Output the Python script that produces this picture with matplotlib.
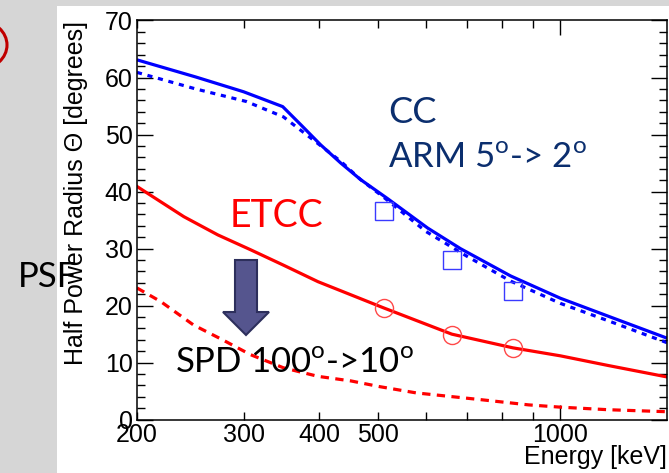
import matplotlib
matplotlib.use("Agg")
import matplotlib.pyplot as plt
from matplotlib.patches import Rectangle, Polygon, Ellipse
from matplotlib.ticker import FixedLocator, FixedFormatter, MultipleLocator, NullFormatter

# ---------------- data ----------------
cc_energy = [200, 250, 300, 348, 373, 402, 434, 468, 518, 604, 684, 828, 1000, 1210, 1500]
cc_psf = [63.1, 60.1, 57.5, 54.9, 51.7, 48.2, 45.0, 42.1, 38.8, 33.6, 30.0, 25.2, 21.3, 18.0, 14.3]

cc2_energy = [200, 250, 303, 349, 397, 434, 468, 511, 600, 700, 828, 1000, 1210, 1500]
cc2_psf = [60.9, 58.0, 55.8, 53.1, 48.5, 45.3, 42.1, 39.0, 33.0, 28.7, 24.3, 20.4, 17.2, 13.5]

etcc_energy = [200, 211, 239, 272, 308, 349, 398, 451, 511, 662, 835, 1000, 1200, 1500]
etcc_psf = [40.9, 39.3, 35.6, 32.4, 29.8, 27.1, 24.2, 21.9, 19.6, 15.0, 12.6, 11.2, 9.5, 7.5]

etcc2_energy = [200, 219, 248, 277, 308, 349, 398, 451, 503, 578, 741, 886, 1000, 1200, 1500]
etcc2_psf = [23.1, 20.7, 16.6, 14.0, 11.4, 9.1, 7.6, 6.8, 5.8, 4.7, 3.5, 2.6, 2.2, 1.75, 1.4]

cc_meas_energy = [511, 662, 835]
cc_meas_psf = [36.6, 28.0, 22.5]
etcc_meas_energy = [511, 662, 835]
etcc_meas_psf = [19.6, 14.9, 12.6]

x_major = [1000]
x_minor = [200, 300, 400, 500, 600, 700, 800, 900]
x_minor_labels = ["200", "300", "400", "500", "", "", "", ""]

# ---------------- figure ----------------
W, H = 669, 473
fig = plt.figure(figsize=(W / 100, H / 100), dpi=100)
fig.patch.set_facecolor("#d6d6d6")

def fx(px):
    return px / W

def fy(py):
    return 1 - py / H

# white slide panel
fig.add_artist(Rectangle((fx(57), 0), 1 - fx(57), fy(6), transform=fig.transFigure,
                         facecolor="white", edgecolor="none", zorder=0))
# partial red ellipse at top-left of slide
fig.add_artist(Ellipse((fx(-20), fy(45)), 54 / W, 48 / H, transform=fig.transFigure,
                       facecolor="none", edgecolor="#c00000", lw=2.2, zorder=1))

ax = fig.add_axes([fx(137), fy(419.7), fx(667) - fx(137), fy(20.5) - fy(419.7)])
ax.set_facecolor("white")
ax.set_xscale("log")
ax.set_xlim(200, 1500)
ax.set_ylim(0, 70)

lw = 2.3
ax.plot(cc_energy, cc_psf, color="#0000ff", lw=lw, solid_capstyle="butt")
ax.plot(cc2_energy, cc2_psf, color="#0000ff", lw=lw, linestyle=(0, (1.6, 1.8)))
ax.plot(etcc_energy, etcc_psf, color="#ff0000", lw=lw)
ax.plot(etcc2_energy, etcc2_psf, color="#ff0000", lw=lw, linestyle=(0, (2.6, 2.0)))
ax.plot(cc_meas_energy, cc_meas_psf, linestyle="none", marker="s", markersize=13,
        markerfacecolor="none", markeredgecolor="#3a3aff", markeredgewidth=1.0)
ax.plot(etcc_meas_energy, etcc_meas_psf, linestyle="none", marker="o", markersize=13,
        markerfacecolor="none", markeredgecolor="#ff4848", markeredgewidth=1.0)

# ticks
ax.xaxis.set_major_locator(FixedLocator(x_major))
ax.xaxis.set_major_formatter(FixedFormatter(["1000"]))
ax.xaxis.set_minor_locator(FixedLocator(x_minor))
ax.xaxis.set_minor_formatter(FixedFormatter(x_minor_labels))
ax.yaxis.set_major_locator(MultipleLocator(10))
ax.yaxis.set_minor_locator(MultipleLocator(2))

tickfont = "Liberation Sans"
ax.tick_params(axis="both", which="both", direction="in", top=True, right=True,
               width=1.0, colors="black", labelsize=18)
ax.tick_params(axis="x", which="major", length=11, pad=2.5)
ax.tick_params(axis="x", which="minor", length=5.5, pad=2.5)
ax.tick_params(axis="y", which="major", length=11.5, pad=3)
ax.tick_params(axis="y", which="minor", length=6, pad=3)
for lab in ax.get_xticklabels(which="both") + ax.get_yticklabels():
    lab.set_family(tickfont)
for sp in ax.spines.values():
    sp.set_linewidth(1.1)

# axis titles (ROOT style: aligned to axis ends)
fig.text(fx(76), fy(21), "Half Power Radius \u0398 [degrees]", rotation=90,
         ha="center", va="top", fontsize=18, family=tickfont)
fig.text(fx(667), fy(464), "Energy [keV]", ha="right", va="baseline",
         fontsize=18, family=tickfont)

# slide annotations
plt.rcParams["mathtext.fontset"] = "custom"
plt.rcParams["mathtext.rm"] = "Lato"
slide_font = "Lato"
fig.text(fx(230), fy(227), "ETCC", color="#ff0000", fontsize=27, family=slide_font,
         ha="left", va="baseline")
fig.text(fx(388), fy(123), "CC", color="#0b2e6e", fontsize=26, family=slide_font,
         ha="left", va="baseline")
fig.text(fx(388), fy(168), r"ARM 5$^{\mathrm{o}}$-> 2$^{\mathrm{o}}$", color="#0b2e6e",
         fontsize=25, family=slide_font, ha="left", va="baseline")
fig.text(fx(175), fy(373), r"SPD 100$^{\mathrm{o}}$->10$^{\mathrm{o}}$", color="black",
         fontsize=25, family=slide_font, ha="left", va="baseline")
fig.text(fx(18), fy(287), "PSF", color="black", fontsize=25, family=slide_font,
         ha="left", va="baseline")

# big down arrow
arrow_px = [(235, 260), (257, 260), (257, 312), (269, 312), (246, 335), (223, 312), (235, 312)]
fig.add_artist(Polygon([(fx(x), fy(y)) for x, y in arrow_px], closed=True,
                       transform=fig.transFigure, facecolor="#55558e",
                       edgecolor="#2d2f5c", lw=1.5, zorder=5))

fig.savefig("out.png", dpi=100, facecolor=fig.get_facecolor())
